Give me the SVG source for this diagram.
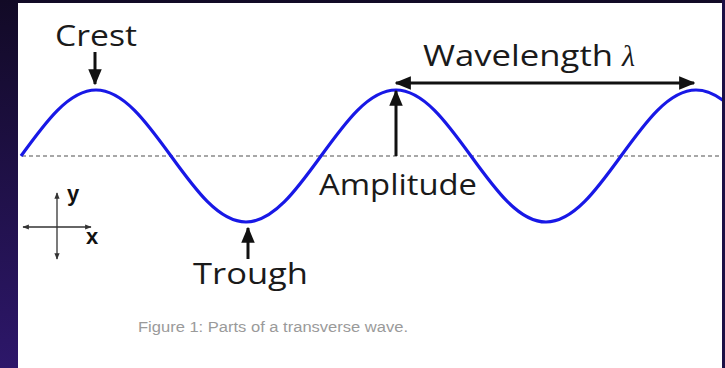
<svg xmlns="http://www.w3.org/2000/svg" width="725" height="368" viewBox="0 0 725 368">
<defs>
<linearGradient id="bg" x1="0" y1="0" x2="0" y2="1">
<stop offset="0" stop-color="#120a26"/>
<stop offset="1" stop-color="#2d176a"/>
</linearGradient>
<clipPath id="panel"><rect x="18" y="3" width="704" height="365"/></clipPath>
<marker id="ah" viewBox="0 0 12 10" refX="11" refY="5" markerWidth="5.4" markerHeight="4.5" orient="auto-start-reverse" markerUnits="strokeWidth">
<path d="M0,0 L12,5 L0,10 Z" fill="#111"/>
</marker>
<marker id="sh" viewBox="0 0 10 10" refX="9" refY="5" markerWidth="5" markerHeight="5" orient="auto-start-reverse" markerUnits="strokeWidth">
<path d="M0,1 L10,5 L0,9 Z" fill="#333"/>
</marker>
</defs>
<style>
.lbl{font-family:"Open Sans","Liberation Sans",sans-serif;font-size:29px;fill:#1a1a1a}
.arr{stroke:#111;stroke-width:3;fill:none;marker-end:url(#ah)}
.ax{stroke:#333;stroke-width:1.3;fill:none;marker-start:url(#sh);marker-end:url(#sh)}
.axl{font-family:"Liberation Sans",sans-serif;font-weight:bold;font-size:22px;fill:#111}
.cap{font-family:"Liberation Sans",Arial,sans-serif;font-size:14px;fill:#9a9a9a}
</style>
<rect width="725" height="368" fill="url(#bg)"/>
<rect x="722" y="0" width="3" height="368" fill="#1c1045"/>
<rect x="18" y="3" width="704" height="365" fill="#ffffff"/>
<g id="baseline">
<line x1="22" y1="156" x2="722" y2="156" stroke="#8a8a8a" stroke-width="1.3" stroke-dasharray="4,3"/>
</g>
<g id="wave" clip-path="url(#panel)">
<path d="M21,156 C45.46,122.19 68.86,90 96,90 S146.54,122.19 171,156 S218.86,222 246,222 S296.54,189.81 321,156 S368.86,90 396,90 S446.54,122.19 471,156 S518.86,222 546,222 S596.54,189.81 621,156 S668.86,90 696,90 S746.54,122.19 771,156" fill="none" stroke="#1818e6" stroke-width="3.2"/>
</g>
<g id="connectors">
<line class="arr" x1="95" y1="52" x2="95" y2="84"/>
<line class="arr" x1="248" y1="259" x2="248" y2="228"/>
<line class="arr" x1="396" y1="156" x2="396" y2="91"/>
<line class="arr" x1="396" y1="83" x2="694" y2="83" style="marker-start:url(#ah)"/>
</g>
<g id="crest"><text class="lbl" x="55" y="46" textLength="82" lengthAdjust="spacingAndGlyphs">Crest</text></g>
<g id="wavelength"><text class="lbl" x="423" y="66" textLength="190" lengthAdjust="spacingAndGlyphs">Wavelength</text><text x="622" y="66" style="font-family:'Liberation Serif',serif;font-style:italic;font-size:30px;fill:#1a1a1a">λ</text></g>
<g id="amplitude"><text class="lbl" x="319" y="195" textLength="158" lengthAdjust="spacingAndGlyphs">Amplitude</text></g>
<g id="trough"><text class="lbl" x="193" y="284" textLength="115" lengthAdjust="spacingAndGlyphs">Trough</text></g>
<g id="axes">
<line class="ax" x1="23" y1="227" x2="91" y2="227"/>
<line class="ax" x1="57" y1="193" x2="57" y2="259"/>
<text class="axl" x="67" y="201">y</text>
<text class="axl" x="86" y="244">x</text>
</g>
<g id="caption"><text class="cap" x="138" y="332" textLength="270" lengthAdjust="spacingAndGlyphs">Figure 1: Parts of a transverse wave.</text></g>
</svg>
